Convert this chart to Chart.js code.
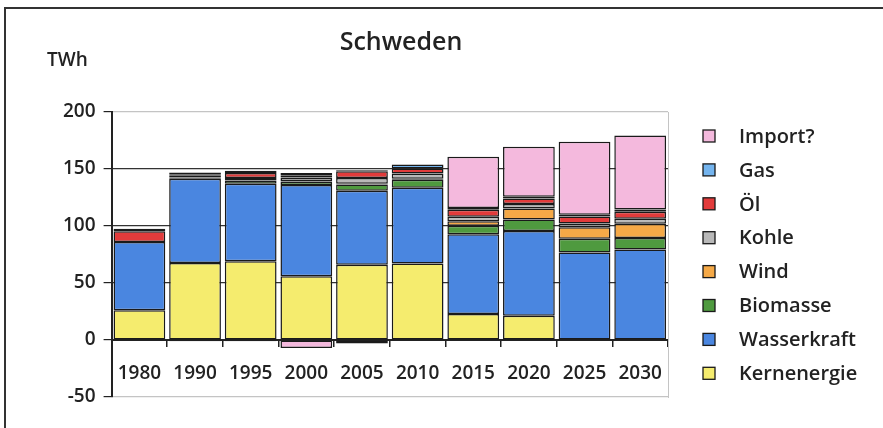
<!DOCTYPE html>
<html>
<head>
<meta charset="utf-8">
<script src="https://cdn.jsdelivr.net/npm/chart.js@4.4.1/dist/chart.umd.min.js"></script>
<style>
  html, body { margin: 0; padding: 0; background: #fff; }
  #wrap { position: relative; width: 883px; height: 428px; overflow: hidden; }
  #frame { position: absolute; left: 4px; top: 7px; width: 900px; height: 440px; border: 2px solid #333; }
  canvas { position: absolute; left: 0; top: 0; }
</style>
</head>
<body>
<div id="wrap">
  <div id="frame"></div>
  <canvas id="chart" width="883" height="428"></canvas>
</div>
<script>
// Schweden, Stromerzeugung in TWh
const years = ["1980","1990","1995","2000","2005","2010","2015","2020","2025","2030"];
const kernenergie = [26, 67.5, 69, 56, 66, 67, 22.7, 21.3, 0, 0];
const wasserkraft = [60, 74, 68, 80, 65, 66.5, 70, 74.4, 76.8, 79.4];
const biomasse = [0, 1, 3, 3, 5.5, 7, 7.5, 10, 12, 10];
const wind = [0, 0, 0, 0.5, 0.5, 1, 4, 9.7, 10, 12.5];
const kohle = [0, 1.5, 2, 3, 5, 4.5, 4, 4, 3.3, 4.5];
const oel = [9.5, 1.5, 4.5, 2, 6, 4.5, 6, 4.8, 6.2, 6];
const gas = [2, 1.5, 2, 2, 1, 3.5, 1.5, 1.4, 1.5, 2];
const importe = [0, -1, -1, -7, -3, 0, 45, 44, 64, 65];
const yTicks = [-50, 0, 50, 100, 150, 200];

const FONT = '"Open Sans", "DejaVu Sans", sans-serif';

function ds(label, data, color) {
  return {
    label: label,
    // zero segments are left out so they draw no outline
    data: data.map(v => v === 0 ? null : v),
    backgroundColor: color,
    borderColor: "#1a1a1a",
    borderWidth: 1.5,
    borderSkipped: false,
    barPercentage: 0.93,
    categoryPercentage: 1.0,
    yAxisID: "y"
  };
}

// title, unit and the legend on the right
const decor = {
  id: "decor",
  afterDraw(chart) {
    const c = chart.ctx;
    c.save();
    c.fillStyle = "#222";
    c.textBaseline = "middle";
    c.font = "600 25px " + FONT;
    c.textAlign = "center";
    c.fillText("Schweden", 401, 43);
    c.font = "600 19px " + FONT;
    c.textAlign = "left";
    c.fillText("TWh", 47, 61);

    const sets = chart.data.datasets.slice().reverse();
    c.font = "600 20px " + FONT;
    sets.forEach((d, i) => {
      const y = 136 + i * 33.9;
      c.fillStyle = d.backgroundColor;
      c.fillRect(703, y - 6, 12, 12);
      c.strokeStyle = "#1a1a1a";
      c.lineWidth = 1.3;
      c.strokeRect(703, y - 6, 12, 12);
      c.fillStyle = "#222";
      c.fillText(d.label, 739, y + 1);
    });
    c.restore();
  }
};

new Chart(document.getElementById("chart"), {
  type: "bar",
  data: {
    labels: years,
    datasets: [
      ds("Kernenergie", kernenergie, "#f5ec6e"),
      ds("Wasserkraft", wasserkraft, "#4a86e0"),
      ds("Biomasse", biomasse, "#4f9a3f"),
      ds("Wind", wind, "#f5a947"),
      ds("Kohle", kohle, "#b9b9b9"),
      ds("Öl", oel, "#e23b3b"),
      ds("Gas", gas, "#74b4ee"),
      ds("Import?", importe, "#f4b9dd")
    ]
  },
  options: {
    responsive: false,
    animation: false,
    layout: { padding: { left: 55, top: 112, right: 214, bottom: 31 } },
    scales: {
      x: {
        stacked: true,
        position: { y: 0 },
        grid: { drawOnChartArea: false, tickLength: 6, color: "#222", lineWidth: 1.5, offset: true },
        border: { color: "#222", width: 2 },
        ticks: { font: { family: FONT, size: 19, weight: 600 }, color: "#222", padding: 16 },
        afterFit: s => { s.height = 0; }
      },
      y: {
        stacked: true,
        min: -50,
        max: 200,
        afterBuildTicks: s => { s.ticks = yTicks.map(v => ({ value: v })); },
        ticks: { font: { family: FONT, size: 19, weight: 600 }, color: "#222", padding: 8 },
        grid: {
          color: ctx => (ctx.tick.value === 200 || ctx.tick.value === -50) ? "#c4c4c4" : "#333",
          lineWidth: 1.2,
          tickLength: 8,
          tickColor: "#222"
        },
        border: { color: "#222", width: 2 }
      },
      y2: {
        position: "right",
        min: -50,
        max: 200,
        ticks: { display: false },
        grid: { drawOnChartArea: false, drawTicks: false },
        border: { color: "#c4c4c4", width: 1, dash: [2, 2] },
        afterFit: s => { s.width = 1; }
      }
    },
    plugins: {
      legend: { display: false },
      tooltip: { enabled: false }
    }
  },
  plugins: [decor]
});
</script>
</body>
</html>
